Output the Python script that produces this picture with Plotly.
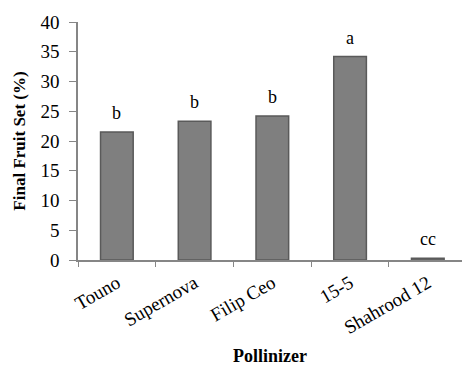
import plotly.graph_objects as go

categories = ["Touno", "Supernova", "Filip Ceo", "15-5", "Shahrood 12"]
fruit_set = [21.5, 23.3, 24.2, 34.2, 0.3]
letters = ["b", "b", "b", "a", "cc"]
y_ticks = [0, 5, 10, 15, 20, 25, 30, 35, 40]

FONT = "Liberation Serif, Times New Roman, serif"
AXIS = "#868686"

fig = go.Figure()
fig.add_trace(go.Bar(
    x=categories, y=fruit_set, width=0.42,
    marker=dict(color="#7f7f7f", line=dict(color="#5a5a5a", width=1.5)),
    showlegend=False,
))
for c, v, t in zip(categories, fruit_set, letters):
    fig.add_annotation(x=c, y=v, text=t, showarrow=False, yanchor="bottom",
                       yshift=7, font=dict(family=FONT, size=18, color="black"))

fig.update_layout(
    width=462, height=366,
    margin=dict(l=78, r=0, t=22, b=106),
    paper_bgcolor="white", plot_bgcolor="white",
    font=dict(family=FONT, size=17, color="black"),
    xaxis=dict(
        type="category", automargin=False,
        range=[-0.5, 4.44], tickangle=-30, showline=True, linecolor=AXIS, linewidth=1.5,
        ticks="outside", tickson="boundaries", ticklen=5, tickcolor=AXIS,
        showgrid=False, tickfont=dict(family=FONT, size=19), ticklabelstandoff=3,
        title=dict(text="<b>Pollinizer</b>", font=dict(family=FONT, size=18), standoff=14),
    ),
    yaxis=dict(
        automargin=False,
        range=[0, 40], tickvals=y_ticks, showline=True, linecolor=AXIS, linewidth=1.5,
        ticks="outside", ticklen=7, tickcolor=AXIS, showgrid=False, zeroline=False,
        tickfont=dict(family=FONT, size=19), ticklabelstandoff=6,
        title=dict(text="<b>Final Fruit Set (%)</b>", font=dict(family=FONT, size=17), standoff=11),
    ),
)

fig.write_html("out.html", config={"displayModeBar": False},
               post_script="document.body.style.margin='0';")
